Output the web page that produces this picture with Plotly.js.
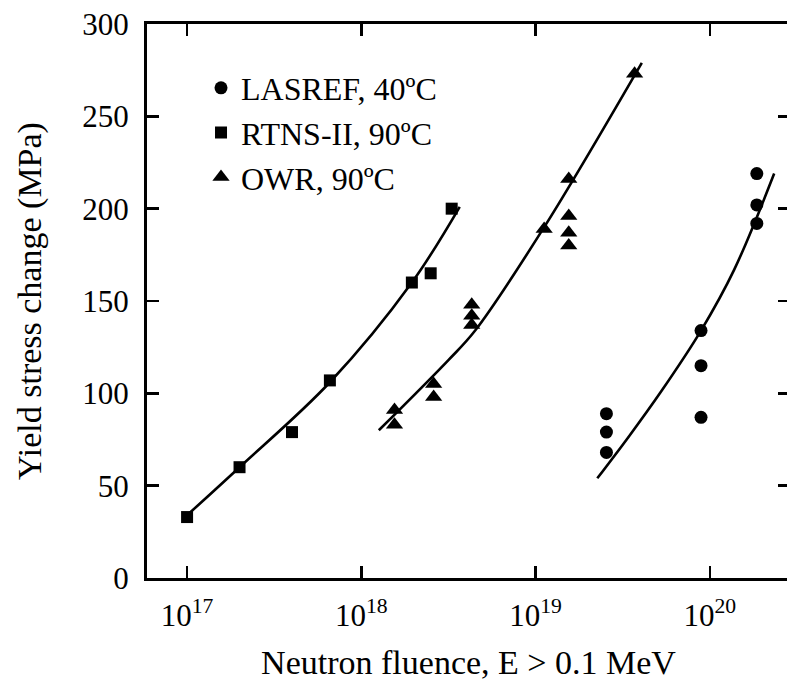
<!DOCTYPE html>
<html>
<head>
<meta charset="utf-8">
<script src="https://cdn.plot.ly/plotly-3.0.1.min.js"></script>
<style>
html,body{margin:0;padding:0;overflow:hidden;background:#fff;}
#chart{width:795px;height:681px;}
</style>
</head>
<body>
<div id="chart"></div>
<script>
// Data
const lasrefX = [2.55e19, 2.55e19, 2.55e19, 8.9e19, 8.9e19, 8.9e19, 1.86e20, 1.86e20, 1.86e20];
const lasrefY = [89, 79, 68, 134, 115, 87, 219, 202, 192];
const rtnsX = [1e17, 2e17, 4e17, 6.6e17, 1.95e18, 2.5e18, 3.3e18];
const rtnsY = [33, 60, 79, 107, 160, 165, 200];
const owrX = [1.55e18, 1.55e18, 2.6e18, 2.6e18, 4.3e18, 4.3e18, 4.3e18, 1.12e19, 1.55e19, 1.55e19, 1.55e19, 1.55e19, 3.7e19];
const owrY = [91, 83, 105, 98, 148, 142, 137, 189, 216, 196, 187, 180, 273];

// Fitted curves
const rtnsFitX = [1.0e17, 2e17, 6.6e17, 1.95e18, 3.67e18];
const rtnsFitY = [34, 60, 106, 160, 201];
const owrFitX = [1.26e18, 3.16e18, 4.5e18, 1.12e19, 4.07e19];
const owrFitY = [80, 118, 134, 190, 279];
const lasFitX = [2.26e19, 3.39e19, 5.25e19, 8.9e19, 1.38e20, 2.34e20];
const lasFitY = [54, 76, 101, 134, 167, 219];

const legendNames = ['LASREF, 40\u00BAC', 'RTNS-II, 90\u00BAC', 'OWR, 90\u00BAC'];
const xTickVals = [1e17, 1e18, 1e19, 1e20];
const xTickText = ['10<sup>17</sup>', '10<sup>18</sup>', '10<sup>19</sup>', '10<sup>20</sup>'];
const yTickVals = [0, 50, 100, 150, 200, 250, 300];
const xTitle = 'Neutron fluence, E > 0.1 MeV';
const yTitle = 'Yield stress change (MPa)';

const FONT = 'Liberation Serif, Times New Roman, serif';
const lineStyle = {color: '#000', width: 2.6, shape: 'spline', smoothing: 1};

const traces = [
  {x: rtnsFitX, y: rtnsFitY, mode: 'lines', line: lineStyle, showlegend: false, hoverinfo: 'skip'},
  {x: owrFitX, y: owrFitY, mode: 'lines', line: lineStyle, showlegend: false, hoverinfo: 'skip'},
  {x: lasFitX, y: lasFitY, mode: 'lines', line: lineStyle, showlegend: false, hoverinfo: 'skip'},
  {x: lasrefX, y: lasrefY, mode: 'markers', name: legendNames[0],
   marker: {symbol: 'circle', size: 13, color: '#000'}},
  {x: rtnsX, y: rtnsY, mode: 'markers', name: legendNames[1],
   marker: {symbol: 'square', size: 12, color: '#000'}},
  {x: owrX, y: owrY, mode: 'markers', name: legendNames[2],
   marker: {symbol: 'triangle-up', size: 15, color: '#000'}}
];

const layout = {
  width: 795, height: 681,
  margin: {l: 147, r: 5, t: 24, b: 103},
  paper_bgcolor: '#fff', plot_bgcolor: '#fff',
  font: {family: FONT, color: '#000', size: 31},
  showlegend: true,
  legend: {x: 0.084, y: 0.934, xanchor: 'left', yanchor: 'top',
           bgcolor: 'rgba(0,0,0,0)', borderwidth: 0,
           font: {family: FONT, size: 32, color: '#000'},
           tracegroupgap: 0, itemwidth: 30},
  xaxis: {
    type: 'log',
    range: [16.77, 20.46],
    tickvals: xTickVals, ticktext: xTickText,
    ticks: 'inside', ticklen: 12, tickwidth: 2.5, tickcolor: '#000',
    showline: true, linewidth: 3, linecolor: '#000', mirror: 'ticks',
    showgrid: false, zeroline: false,
    ticklabelstandoff: 8,
    tickfont: {family: FONT, size: 31, color: '#000'},
    title: {text: xTitle, font: {family: FONT, size: 34, color: '#000'}, standoff: 18}
  },
  yaxis: {
    range: [0, 300],
    tickvals: yTickVals,
    ticks: 'inside', ticklen: 12, tickwidth: 2.5, tickcolor: '#000',
    showline: true, linewidth: 3, linecolor: '#000', mirror: 'ticks',
    showgrid: false, zeroline: false,
    ticklabelstandoff: 9,
    tickfont: {family: FONT, size: 31, color: '#000'},
    title: {text: yTitle, font: {family: FONT, size: 34, color: '#000'}, standoff: 31}
  }
};

Plotly.newPlot('chart', traces, layout, {displayModeBar: false, staticPlot: true});
</script>
</body>
</html>
